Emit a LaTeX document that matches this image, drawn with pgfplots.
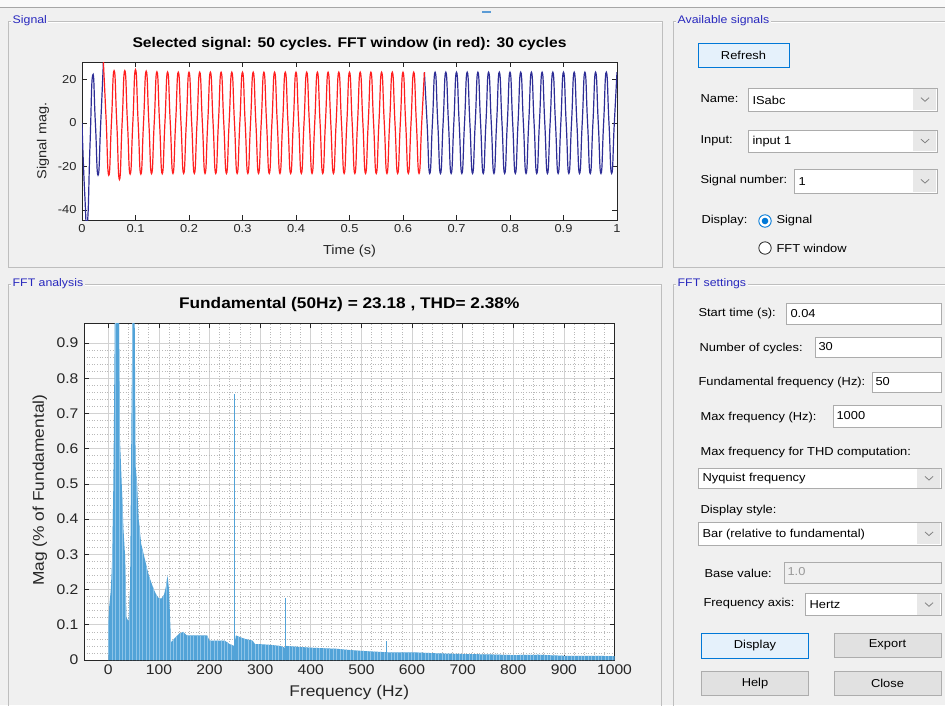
\documentclass[border=0pt]{standalone}
\usepackage{fontspec}
\setmainfont{Liberation Sans}[FakeStretch=1.12]
\usepackage{pgfplots}
\pgfplotsset{compat=1.18}
\usetikzlibrary{patterns.meta}
\definecolor{bg}{RGB}{240,240,240}
\definecolor{framegray}{RGB}{190,190,190}
\definecolor{paneltitle}{RGB}{40,40,190}
\definecolor{axgray}{RGB}{38,38,38}
\definecolor{sigblue}{RGB}{45,45,150}
\definecolor{sigred}{RGB}{255,30,30}
\definecolor{specblue}{RGB}{82,163,216}
\definecolor{speclight}{RGB}{140,195,232}
\definecolor{boxgray}{RGB}{172,172,172}
\definecolor{arrowbg}{RGB}{232,232,232}
\definecolor{btnblue}{RGB}{229,241,251}
\definecolor{btnbluebd}{RGB}{0,120,215}
\definecolor{btngray}{RGB}{225,225,225}
\definecolor{btngraybd}{RGB}{173,173,173}
\definecolor{dashblue}{RGB}{91,155,213}
\newcommand\gui{\fontsize{11.5}{13}\selectfont}
\newcommand\ptitle{\fontsize{11}{12}\selectfont}
\newcommand\combo[4]{%
  \filldraw[fill=white,draw=boxgray] (#1,#2) rectangle (#3,#4);
  \fill[arrowbg] ({#3-24},{#2+0.7}) rectangle ({#3-0.7},{#4-0.7});
  \draw[gray,line width=0.8] ({#3-16},{(#2+#4)/2-1.8}) -- ({#3-12},{(#2+#4)/2+1.8}) -- ({#3-8},{(#2+#4)/2-1.8});
}
\newcommand\editbox[4]{\filldraw[fill=white,draw=boxgray] (#1,#2) rectangle (#3,#4);}
\newcommand\panel[5]{%
  \draw[framegray,line width=0.8] (#1,#2) rectangle (#3,#4);
  \draw[white,line width=0.6] ({#1+1},{#2+1}) -- ({#3},{#2+1});
  \node[fill=bg,inner xsep=1.5pt,inner ysep=1pt,anchor=west,text=paneltitle,font=\ptitle] at ({#1+3},#2) {#5};
}
\begin{document}
\begin{tikzpicture}[x=1pt,y=-1pt]
\useasboundingbox (0,0) rectangle (945,705);
\clip (0,0) rectangle (945,705);
\fill[bg] (0,0) rectangle (945,705);
\fill[white!60!bg] (0,0) rectangle (945,7);
\draw[gray!70,line width=0.8] (0,7) -- (945,7);
\draw[dashblue,line width=2] (482,11.5) -- (491,11.5);
% panels
\panel{8}{21}{662}{267}{Signal}
\panel{673}{21}{960}{267}{Available signals}
\panel{8}{284}{661}{720}{FFT analysis}
\panel{673}{284}{960}{720}{FFT settings}

% ---------- Signal axis
\begin{axis}[at={(82pt,-220pt)},anchor=south west,scale only axis,
  width=535pt,height=158pt,
  xmin=0,xmax=1,ymin=-44.6,ymax=28,
  xtick={0,0.1,0.2,0.3,0.4,0.5,0.6,0.7,0.8,0.9,1},
  ytick={-40,-20,0,20},
  axis background/.style={fill=white},
  tick align=inside,major tick length=5pt,
  axis line style={draw=axgray,line width=0.6},
  every tick/.style={axgray,line width=0.6},
  /pgf/number format/assume math mode=true,
  tick label style={font=\fontsize{11.5}{13}\selectfont,text=axgray},
  xticklabel style={yshift=-1pt},
  yticklabel style={xshift=-2pt},
  title={\bfseries Selected signal: 50 cycles. FFT window (in red): 30 cycles},
  title style={at={(axis description cs:0.5,1.076)},anchor=center,font=\fontsize{14}{16}\selectfont},
  xlabel={Time (s)},
  xlabel style={at={(axis description cs:0.5,-0.196)},anchor=center,font=\fontsize{13}{15}\selectfont,text=axgray},
  ylabel={Signal mag.},
  ylabel style={at={(axis description cs:-0.073,0.5)},anchor=center,font=\fontsize{13}{15}\selectfont,text=axgray},
  clip=true]
\addplot[sigblue,line width=1.2pt,smooth,tension=0.95] coordinates {
(0,0)(0.005,-32)(0.010,-46)(0.015,-10)(0.020,22)(0.025,0)(0.030,-24)(0.035,0)(0.040,28)};
\addplot[sigblue,line width=1.2pt,smooth,tension=0.95] coordinates {
(0.640,23.3)(0.645,0)(0.650,-23.2)(0.655,0)(0.660,23.3)(0.665,0)(0.670,-23.2)(0.675,0)
(0.680,23.3)(0.685,0)(0.690,-23.2)(0.695,0)(0.700,23.3)(0.705,0)(0.710,-23.2)(0.715,0)
(0.720,23.3)(0.725,0)(0.730,-23.2)(0.735,0)(0.740,23.3)(0.745,0)(0.750,-23.2)(0.755,0)
(0.760,23.3)(0.765,0)(0.770,-23.2)(0.775,0)(0.780,23.3)(0.785,0)(0.790,-23.2)(0.795,0)
(0.800,23.3)(0.805,0)(0.810,-23.2)(0.815,0)(0.820,23.3)(0.825,0)(0.830,-23.2)(0.835,0)
(0.840,23.3)(0.845,0)(0.850,-23.2)(0.855,0)(0.860,23.3)(0.865,0)(0.870,-23.2)(0.875,0)
(0.880,23.3)(0.885,0)(0.890,-23.2)(0.895,0)(0.900,23.3)(0.905,0)(0.910,-23.2)(0.915,0)
(0.920,23.3)(0.925,0)(0.930,-23.2)(0.935,0)(0.940,23.3)(0.945,0)(0.950,-23.2)(0.955,0)
(0.960,23.3)(0.965,0)(0.970,-23.2)(0.975,0)(0.980,23.3)(0.985,0)(0.990,-23.2)(0.995,0)
(1.000,23.3)};
\addplot[sigred,line width=1.2pt,smooth,tension=0.95] coordinates {
(0.040,28)(0.045,2)(0.050,-24)(0.055,0)(0.060,24)(0.065,0)(0.070,-26)(0.075,0)
(0.080,24)(0.085,0)(0.090,-23.5)(0.095,0)(0.100,24.5)(0.105,0)(0.110,-23.5)(0.115,0)
(0.120,23.8)(0.125,0)(0.130,-23.3)(0.135,0)(0.140,23.5)(0.145,0)(0.150,-23.3)(0.155,0)
(0.160,23.4)(0.165,0)(0.170,-23.2)(0.175,0)(0.180,23.3)(0.185,0)(0.190,-23.2)(0.195,0)
(0.200,23.3)(0.205,0)(0.210,-23.2)(0.215,0)(0.220,23.3)(0.225,0)(0.230,-23.2)(0.235,0)
(0.240,23.3)(0.245,0)(0.250,-23.2)(0.255,0)(0.260,23.3)(0.265,0)(0.270,-23.2)(0.275,0)
(0.280,23.3)(0.285,0)(0.290,-23.2)(0.295,0)(0.300,23.3)(0.305,0)(0.310,-23.2)(0.315,0)
(0.320,23.3)(0.325,0)(0.330,-23.2)(0.335,0)(0.340,23.3)(0.345,0)(0.350,-23.2)(0.355,0)
(0.360,23.3)(0.365,0)(0.370,-23.2)(0.375,0)(0.380,23.3)(0.385,0)(0.390,-23.2)(0.395,0)
(0.400,23.3)(0.405,0)(0.410,-23.2)(0.415,0)(0.420,23.3)(0.425,0)(0.430,-23.2)(0.435,0)
(0.440,23.3)(0.445,0)(0.450,-23.2)(0.455,0)(0.460,23.3)(0.465,0)(0.470,-23.2)(0.475,0)
(0.480,23.3)(0.485,0)(0.490,-23.2)(0.495,0)(0.500,23.3)(0.505,0)(0.510,-23.2)(0.515,0)
(0.520,23.3)(0.525,0)(0.530,-23.2)(0.535,0)(0.540,23.3)(0.545,0)(0.550,-23.2)(0.555,0)
(0.560,23.3)(0.565,0)(0.570,-23.2)(0.575,0)(0.580,23.3)(0.585,0)(0.590,-23.2)(0.595,0)
(0.600,23.3)(0.605,0)(0.610,-23.2)(0.615,0)(0.620,23.3)(0.625,0)(0.630,-23.2)(0.635,0)
(0.640,23.3)};
\end{axis}

% ---------- FFT axis
\begin{axis}[at={(84pt,-660pt)},anchor=south west,scale only axis,
  width=530.5pt,height=337pt,
  xmin=-48,xmax=1000,ymin=0,ymax=0.957,
  xtick={0,100,200,300,400,500,600,700,800,900,1000},
  ytick={0,0.1,0.2,0.3,0.4,0.5,0.6,0.7,0.8,0.9},
  minor x tick num=4, minor y tick num=4,
  grid=both,
  major grid style={draw=gray!35,line width=0.6},
  minor grid style={draw=gray!55,line width=0.6,dotted},
  minor tick length=0pt,
  axis background/.style={fill=white},
  tick align=inside,major tick length=5pt,
  axis line style={draw=axgray,line width=0.6},
  every tick/.style={axgray,line width=0.6},
  /pgf/number format/assume math mode=true,
  /pgf/number format/1000 sep={},
  tick label style={font=\fontsize{14}{16}\selectfont,text=axgray},
  xticklabel style={yshift=-1pt},
  yticklabel style={xshift=-2pt},
  title={\bfseries Fundamental (50Hz) = 23.18 , THD= 2.38\%},
  title style={at={(axis description cs:0.5,1.0356)},anchor=center,font=\fontsize{15.4}{17}\selectfont},
  xlabel={Frequency (Hz)},
  xlabel style={at={(axis description cs:0.5,-0.095)},anchor=center,font=\fontsize{15.5}{17}\selectfont,text=axgray},
  ylabel={Mag (\% of Fundamental)},
  ylabel style={at={(axis description cs:-0.083,0.504)},anchor=center,font=\fontsize{15.5}{17}\selectfont,text=axgray},
  clip=true]
\addplot[fill=specblue,draw=none,
  postaction={pattern={Lines[angle=90,distance=3.4pt,line width=0.7pt]},pattern color=speclight}] coordinates {
(0,0)(0,0.10)(1.7,0.15)(5,0.2)(8,0.3)(10,0.5)(11,0.65)(13,1.0)(21,1.0)(23,0.63)(26,0.52)
(30,0.37)(33,0.3)(36,0.12)(40,0.11)(43,0.2)(46,0.73)(48,1.0)(52,1.0)(54,0.55)(57,0.5)
(60,0.4)(65,0.33)(70,0.3)(75,0.27)(80,0.24)(85,0.22)(90,0.2)(95,0.185)(100,0.175)
(105,0.175)(110,0.185)(114,0.21)(117,0.24)(120,0.2)(122,0.12)(124,0.05)(130,0.06)
(140,0.075)(148,0.08)(155,0.07)(195,0.07)(200,0.055)(230,0.055)(240,0.045)(249,0.04)
(252,0.07)(260,0.065)(270,0.06)(285,0.055)(290,0.045)(300,0.045)(320,0.043)(340,0.04)
(349,0.035)(352,0.04)(380,0.037)(400,0.035)(450,0.032)(480,0.028)(500,0.026)(550,0.022)
(600,0.022)(650,0.019)(700,0.017)(750,0.016)(800,0.014)(850,0.015)(900,0.012)(950,0.012)
(1000,0.011)(1000,0)} -- cycle;
\addplot[ycomb,draw=specblue,line width=1.1pt,mark=none] coordinates {
(250,0.755)(350,0.175)(550,0.054)(50,1.0)};
\end{axis}

% ---------- Available signals
\filldraw[fill=btnblue,draw=btnbluebd,line width=0.8] (698,43) rectangle (789,67);
\node[font=\gui] at (743.5,55) {Refresh};
\node[font=\gui,anchor=west] at (697,99) {Name:};
\combo{748}{88}{937}{111}
\node[font=\gui,anchor=west] at (749,100) {ISabc};
\node[font=\gui,anchor=west] at (697,141) {Input:};
\combo{748}{130}{937}{152}
\node[font=\gui,anchor=west] at (749,142) {input 1};
\node[font=\gui,anchor=west] at (697,181) {Signal number:};
\combo{794}{169.5}{937}{193}
\node[font=\gui,anchor=west] at (795,182) {1};
\node[font=\gui,anchor=west] at (698,221) {Display:};
\filldraw[fill=white,draw=btnbluebd,line width=0.9] (765,221) circle (6.2);
\fill[btnbluebd] (765,221) circle (3.3);
\node[font=\gui,anchor=west] at (773,221) {Signal};
\filldraw[fill=white,draw=axgray,line width=0.8] (765,248) circle (6.2);
\node[font=\gui,anchor=west] at (773,248) {FFT window};

% ---------- FFT settings
\node[font=\gui,anchor=west] at (695,314) {Start time (s):};
\editbox{786.5}{303.5}{941}{324}
\node[font=\gui,anchor=west] at (787,313.5) {0.04};
\node[font=\gui,anchor=west] at (696,349) {Number of cycles:};
\editbox{815}{337}{941}{357.5}
\node[font=\gui,anchor=west] at (815,347) {30};
\node[font=\gui,anchor=west] at (695,383) {Fundamental frequency (Hz):};
\editbox{872}{372}{941}{392}
\node[font=\gui,anchor=west] at (872,382) {50};
\node[font=\gui,anchor=west] at (697,418) {Max frequency (Hz):};
\editbox{833}{405}{941}{427}
\node[font=\gui,anchor=west] at (833,416) {1000};
\node[font=\gui,anchor=west] at (697,453) {Max frequency for THD computation:};
\combo{698}{468}{941}{488.5}
\node[font=\gui,anchor=west] at (699,478.5) {Nyquist frequency};
\node[font=\gui,anchor=west] at (697,510.5) {Display style:};
\combo{698}{522.5}{941}{545}
\node[font=\gui,anchor=west] at (699,534.5) {Bar (relative to fundamental)};
\node[font=\gui,anchor=west] at (701,573) {Base value:};
\filldraw[fill=bg,draw=boxgray] (784,562) rectangle (941,583.5);
\node[font=\gui,anchor=west,text=gray!80] at (784,572) {1.0};
\node[font=\gui,anchor=west] at (700,604) {Frequency axis:};
\combo{805.5}{593.5}{941}{615.5}
\node[font=\gui,anchor=west] at (806,605) {Hertz};
\filldraw[fill=btnblue,draw=btnbluebd,line width=0.8] (701.5,633.5) rectangle (808.5,658.5);
\node[font=\gui] at (755,646) {Display};
\filldraw[fill=btngray,draw=btngraybd,line width=0.8] (834,633) rectangle (941,657.5);
\node[font=\gui] at (887.5,645) {Export};
\filldraw[fill=btngray,draw=btngraybd,line width=0.8] (701.5,671) rectangle (808.5,695.5);
\node[font=\gui] at (755,683.5) {Help};
\filldraw[fill=btngray,draw=btngraybd,line width=0.8] (834,671) rectangle (941,695.5);
\node[font=\gui] at (887.5,683.5) {Close};
\end{tikzpicture}
\end{document}
